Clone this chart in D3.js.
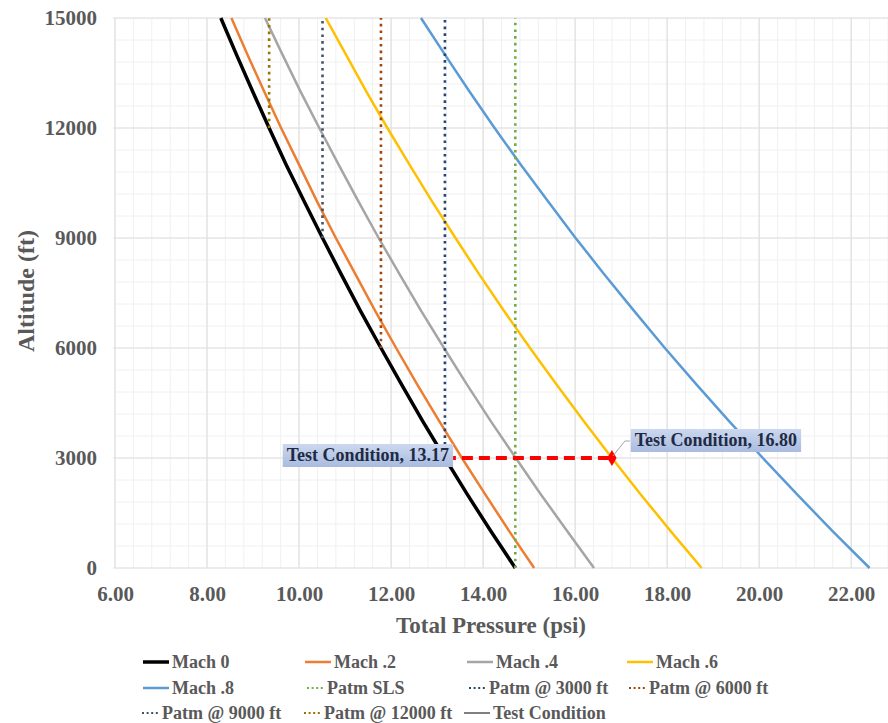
<!DOCTYPE html>
<html>
<head>
<meta charset="utf-8">
<script src="https://cdn.jsdelivr.net/npm/d3@7"></script>
<style>
  body { margin: 0; background: #fff; }
  svg text { font-family: "Liberation Serif", "Times New Roman", serif; font-weight: bold; }
</style>
</head>
<body>
<div id="chart"></div>
<script>
// altitudes (ft) for the Mach curves
const altitudes = [0, 1000, 2000, 3000, 4000, 5000, 6000, 7000, 8000, 9000, 10000, 11000, 12000, 13000, 14000, 15000];

// total pressure (psi)
const mach0  = [14.70, 14.17, 13.66, 13.17, 12.69, 12.23, 11.78, 11.34, 10.92, 10.51, 10.11, 9.72, 9.35, 8.99, 8.64, 8.30];
const mach02 = [15.11, 14.57, 14.05, 13.54, 13.05, 12.57, 12.11, 11.66, 11.23, 10.80, 10.39, 10.00, 9.61, 9.24, 8.88, 8.53];
const mach04 = [16.41, 15.83, 15.26, 14.71, 14.17, 13.65, 13.15, 12.66, 12.19, 11.73, 11.29, 10.86, 10.44, 10.03, 9.64, 9.26];
const mach06 = [18.75, 18.08, 17.43, 16.80, 16.19, 15.60, 15.02, 14.46, 13.92, 13.40, 12.89, 12.40, 11.92, 11.46, 11.02, 10.58];
const mach08 = [22.40, 21.60, 20.83, 20.08, 19.35, 18.64, 17.95, 17.29, 16.64, 16.01, 15.41, 14.82, 14.25, 13.70, 13.17, 12.65];

const machNames  = ["Mach 0", "Mach .2", "Mach .4", "Mach .6", "Mach .8"];
const machColors = ["#000000", "#ed7d31", "#a5a5a5", "#ffc000", "#5b9bd5"];

// atmospheric pressure verticals
const patmNames   = ["Patm SLS", "Patm @ 3000 ft", "Patm @ 6000 ft", "Patm @ 9000 ft", "Patm @ 12000 ft"];
const patmValues  = [14.70, 13.17, 11.78, 10.51, 9.35];
const patmFromAlt = [0, 3000, 6000, 9000, 12000];
const patmColors  = ["#70ad47", "#264478", "#9e480e", "#43546a", "#997300"];

// test condition
const testAlt = 3000;
const testPressures = [13.17, 16.80];

const xTicks = [6, 8, 10, 12, 14, 16, 18, 20, 22];
const yTicks = [0, 3000, 6000, 9000, 12000, 15000];

const W = 888, H = 723;
const FONT = '"Liberation Serif", "Times New Roman", serif';
const svg = d3.select('#chart').append('svg').attr('width', W).attr('height', H);

const x = d3.scaleLinear().domain([6, 22.8]).range([115, 888]);
const y = d3.scaleLinear().domain([0, 15000]).range([568, 18]);

const defs = svg.append('defs');
const grad = defs.append('linearGradient').attr('id', 'lblGrad').attr('x1', 0).attr('y1', 0).attr('x2', 0).attr('y2', 1);
grad.append('stop').attr('offset', '0%').attr('stop-color', '#ccd8ee');
grad.append('stop').attr('offset', '100%').attr('stop-color', '#a8bbe0');
defs.append('clipPath').attr('id', 'plotClip').append('rect')
    .attr('x', 113).attr('y', 16).attr('width', 780).attr('height', 556);

// gridlines
const grid = svg.append('g');
grid.selectAll('.vminor').data(d3.range(6, 22.81, 0.4)).enter().append('line')
    .attr('x1', d => x(d)).attr('x2', d => x(d)).attr('y1', y(0)).attr('y2', y(15000))
    .attr('stroke', '#f0f0f0').attr('stroke-width', 1);
grid.selectAll('.hminor').data(d3.range(0, 15001, 600)).enter().append('line')
    .attr('x1', x(6)).attr('x2', W).attr('y1', d => y(d)).attr('y2', d => y(d))
    .attr('stroke', '#f0f0f0').attr('stroke-width', 1);
grid.selectAll('.vmajor').data(xTicks).enter().append('line')
    .attr('x1', d => x(d)).attr('x2', d => x(d)).attr('y1', y(0)).attr('y2', y(15000))
    .attr('stroke', '#e0e0e0').attr('stroke-width', 1.2);
grid.selectAll('.hmajor').data(yTicks).enter().append('line')
    .attr('x1', x(6) - 2).attr('x2', W).attr('y1', d => y(d)).attr('y2', d => y(d))
    .attr('stroke', '#e0e0e0').attr('stroke-width', 1.2);

// axes (labels only)
const xAxis = d3.axisBottom(x).tickValues(xTicks).tickFormat(d3.format('.2f')).tickSize(0).tickPadding(18);
const yAxis = d3.axisLeft(y).tickValues(yTicks).tickFormat(d => String(d)).tickSize(0).tickPadding(18);
const gx = svg.append('g').attr('transform', 'translate(0,' + y(0) + ')').call(xAxis);
const gy = svg.append('g').attr('transform', 'translate(' + x(6) + ',0)').call(yAxis);
[gx, gy].forEach(g => {
    g.attr('font-family', FONT);
    g.select('.domain').remove();
    g.selectAll('text').attr('fill', '#595959').style('font-size', '21px')
        .style('font-family', FONT).style('font-weight', 'bold');
});

svg.append('text').attr('x', 491).attr('y', 633).attr('text-anchor', 'middle')
    .attr('fill', '#595959').style('font-family', FONT).style('font-size', '23px').text('Total Pressure (psi)');
svg.append('text').attr('transform', 'translate(34,291) rotate(-90)').attr('text-anchor', 'middle')
    .attr('fill', '#595959').style('font-family', FONT).style('font-size', '24px').text('Altitude (ft)');

// Mach curves
const plot = svg.append('g').attr('clip-path', 'url(#plotClip)');
const line = d3.line().x(d => x(d[0])).y(d => y(d[1]));
[mach0, mach02, mach04, mach06, mach08].forEach((vals, i) => {
    plot.append('path')
        .datum(vals.map((v, j) => [v, altitudes[j]]))
        .attr('d', line)
        .attr('fill', 'none')
        .attr('stroke', machColors[i])
        .attr('stroke-width', i === 0 ? 3.5 : 2.5);
});

// Patm verticals
patmValues.forEach((v, i) => {
    plot.append('line')
        .attr('x1', x(v)).attr('x2', x(v))
        .attr('y1', y(patmFromAlt[i])).attr('y2', y(15000))
        .attr('stroke', patmColors[i]).attr('stroke-width', 2.6)
        .attr('stroke-dasharray', '2.6,4.1');
});

// test condition
plot.append('line')
    .attr('x1', x(testPressures[0])).attr('x2', x(testPressures[1]))
    .attr('y1', y(testAlt)).attr('y2', y(testAlt))
    .attr('stroke', '#ff0000').attr('stroke-width', 4).attr('stroke-dasharray', '11,6');
plot.selectAll('.tcMark').data(testPressures).enter().append('path')
    .attr('d', d3.symbol().type(d3.symbolDiamond).size(75))
    .attr('transform', d => 'translate(' + x(d) + ',' + y(testAlt) + ')')
    .attr('fill', '#ff0000');

// data labels
function dataLabel(cx, cy, txt) {
    const g = svg.append('g');
    const t = g.append('text').attr('x', cx).attr('y', cy + 6).attr('text-anchor', 'middle')
        .attr('fill', '#1f2a44').style('font-family', FONT).style('font-size', '18px').text(txt);
    const bb = t.node().getBBox();
    g.insert('rect', 'text')
        .attr('x', bb.x - 4).attr('y', cy - 11).attr('width', bb.width + 8).attr('height', 23)
        .attr('fill', 'url(#lblGrad)');
}
const lx1 = x(testPressures[0]) - 77, ly = y(testAlt);
dataLabel(lx1, ly - 3, 'Test Condition, ' + testPressures[0].toFixed(2));
const px2 = x(testPressures[1]);
svg.append('path')
    .attr('d', 'M' + (px2 + 1) + ',' + (ly - 2) + 'L' + (px2 + 13) + ',' + (ly - 17) + 'L' + (px2 + 18) + ',' + (ly - 17))
    .attr('fill', 'none').attr('stroke', '#a6a6a6').attr('stroke-width', 1);
dataLabel(px2 + 104, ly - 18, 'Test Condition, ' + testPressures[1].toFixed(2));

// legend
const legendItems = [
    {name: machNames[0], color: machColors[0], dotted: false, w: 3.5, col: 143, row: 662},
    {name: machNames[1], color: machColors[1], dotted: false, w: 2.5, col: 305, row: 662},
    {name: machNames[2], color: machColors[2], dotted: false, w: 2.5, col: 467, row: 662},
    {name: machNames[3], color: machColors[3], dotted: false, w: 2.5, col: 627, row: 662},
    {name: machNames[4], color: machColors[4], dotted: false, w: 2.5, col: 143, row: 688},
    {name: patmNames[0], color: patmColors[0], dotted: true, w: 2, col: 305, row: 688},
    {name: patmNames[1], color: patmColors[1], dotted: true, w: 2, col: 467, row: 688},
    {name: patmNames[2], color: patmColors[2], dotted: true, w: 2, col: 627, row: 688},
    {name: patmNames[3], color: patmColors[3], dotted: true, w: 2, col: 140, row: 713},
    {name: patmNames[4], color: patmColors[4], dotted: true, w: 2, col: 302, row: 713},
    {name: 'Test Condition', color: '#7f7f7f', dotted: false, w: 2, col: 464, row: 713}
];
const lg = svg.append('g');
legendItems.forEach(it => {
    const x0 = it.dotted ? it.col + 2 : it.col;
    const x1 = it.dotted ? it.col + 18 : it.col + 26;
    lg.append('line').attr('x1', x0).attr('x2', x1).attr('y1', it.row).attr('y2', it.row)
        .attr('stroke', it.color).attr('stroke-width', it.w)
        .attr('stroke-dasharray', it.dotted ? '2,2.6' : null);
    lg.append('text').attr('x', it.dotted ? it.col + 22 : it.col + 29).attr('y', it.row + 6)
        .attr('fill', '#595959').style('font-family', FONT).style('font-size', '18px').text(it.name);
});
</script>
</body>
</html>
